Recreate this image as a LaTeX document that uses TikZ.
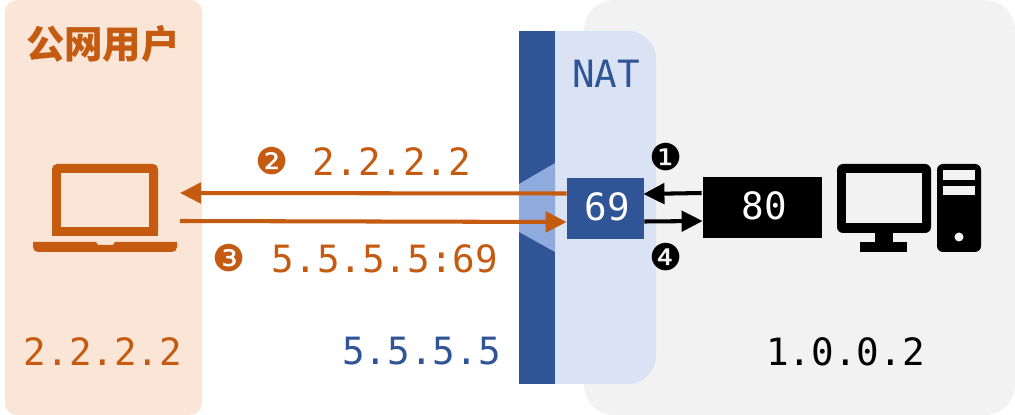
\documentclass[tikz,border=0pt]{standalone}
\usepackage{fontspec}
\setmonofont{DejaVu Sans Mono}
\newfontfamily\cjkfont{Noto Sans CJK SC}
\newfontfamily\dingfont{DejaVu Sans}
\usetikzlibrary{arrows.meta}
\usetikzlibrary{calc}
\definecolor{useror}{HTML}{C55A11}
\definecolor{userbg}{HTML}{FBE5D6}
\definecolor{natblue}{HTML}{2F5597}
\definecolor{natbg}{HTML}{DAE3F3}
\definecolor{natmid}{HTML}{8FAADC}
\definecolor{lanbg}{HTML}{F2F2F2}
\tikzset{
	iptext/.style={font=\ttfamily\fontsize{21.4}{24}\selectfont, inner sep=0pt},
	stepnum/.style={font=\dingfont\fontsize{21}{24}\selectfont, inner sep=0pt},
	portbox/.style={iptext, text=white, text depth=2pt, minimum height=1.22cm},
	flow/.style={line width=2.3pt, -{Triangle[length=12pt,width=11.6pt]}},
}
\begin{document}
\begin{tikzpicture}[x=0.02cm,y=-0.02cm]
		\useasboundingbox (0,0) rectangle (1015,415);
		\fill[userbg, rounded corners=0.24cm] (5,0) rectangle (202,415);
		\fill[lanbg, rounded corners=0.6cm] (584,0) rectangle (1015,415);
		\fill[natbg, rounded corners=0.56cm] (519,31) rectangle (656,384);
		\fill[natblue] (519,31) rectangle (555,384);
		\fill[natmid] (555,163) -- (519,184) -- (519,232) -- (555,252) -- cycle;

		\draw (103,44) node[useror, inner sep=0pt, font=\cjkfont\bfseries\fontsize{21.9}{24}\selectfont] (usertitle) {公网用户};
		\draw (606,74) node[iptext, natblue] (nattitle) {NAT};
		\draw (103,351.5) node[iptext, useror] (userip) {2.2.2.2};
		\draw (421.5,351.5) node[iptext, natblue] (natip) {5.5.5.5};
		\draw (845.5,351.5) node[iptext] (lanip) {1.0.0.2};
		\draw (392,162) node[iptext, useror] (replyip) {2.2.2.2};
		\draw (385,258.5) node[iptext, useror] (sendip) {5.5.5.5:69};
		\draw (272,161) node[stepnum, useror] (stepb) {❷};
		\draw (229,258) node[stepnum, useror] (stepc) {❸};
		\draw (666,157) node[stepnum] (stepa) {❶};
		\draw (666,257) node[stepnum] (stepd) {❹};

		\draw (605.5,208.5) node[portbox, fill=natblue, minimum width=1.54cm] (port69) {\hspace{2pt}69};
		\draw (762.5,207.5) node[portbox, fill=black, minimum width=2.38cm] (port80) {\hspace{2pt}80};

		\coordinate (laptopin) at (180,193);
		\coordinate (laptopout) at (180,221);
		\draw[flow, useror] ($(port69.west)+(0,-15)$) -- (laptopin);
		\draw[flow, useror] (laptopout) -- ($(port69.west)+(0,13.5)$);
		\draw[flow] ($(port80.west)+(-1,-14.5)$) -- ($(port69.east)+(-1,-14.5)$);
		\draw[flow] ($(port69.east)+(0,13)$) -- ($(port80.west)+(0,13.5)$);

		\fill[useror, rounded corners=0.1cm] (52,236) -- (52,164) -- (158,164) -- (158,236) -- cycle;
		\fill[useror] (52,230) rectangle (158,236);
		\fill[userbg] (61,173) rectangle (149,227);
		\fill[useror] (33,242) -- (96,242) -- (98,245) -- (113,245) -- (115,242) -- (177,242) -- (177,247) arc (0:90:5) -- (38,252) arc (90:180:5) -- cycle;

		\fill[black, rounded corners=0.12cm] (837,164) rectangle (931,233);
		\fill[lanbg] (846,173) rectangle (922,223);
		\fill[black] (875,230) rectangle (893,243);
		\fill[black] (860,242) rectangle (907,252);
		\fill[black, rounded corners=0.12cm] (937,164) rectangle (981,252);
		\fill[lanbg] (943,170) rectangle (975,180);
		\fill[lanbg] (943,186) rectangle (975,195);
		\fill[lanbg] (959,237) circle (0.09cm);
	\end{tikzpicture}
\end{document}
